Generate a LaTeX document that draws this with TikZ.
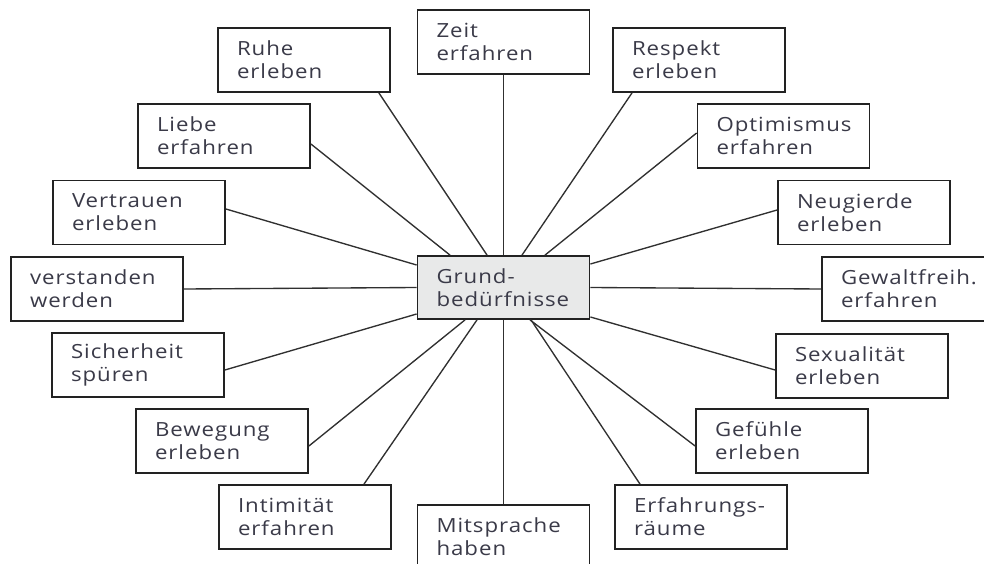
\documentclass[tikz,border=0pt]{standalone}
\usepackage{fontspec}
\setmainfont{Open Sans}[LetterSpace=5, FakeStretch=1.14]
\usetikzlibrary{calc}
\definecolor{txt}{HTML}{3A3A48}
\definecolor{boxline}{HTML}{222222}
\definecolor{wire}{HTML}{303030}
\definecolor{centerfill}{HTML}{E8E9E9}
\tikzset{
  need/.style={draw=boxline, line width=1.8pt, fill=white, minimum width=172pt, minimum height=64pt,
    inner xsep=19pt, inner ysep=0pt, text width=134pt, align=left, text=txt,
    font=\fontsize{19.5pt}{23pt}\selectfont},
  hub/.style={need, fill=centerfill, minimum width=171pt, minimum height=63pt},
  wire/.style={draw=wire, line width=1.35pt}
}
\begin{document}
\begin{tikzpicture}[x=1pt, y=-1pt]
\useasboundingbox (0,0) rectangle (984,564);
\node[hub] (grund) at (503.5,287.5) {Grund-\\bedürfnisse};
\node[need] (zeit) at (503.5,42) {Zeit\\erfahren};
\node[need] (ruhe) at (304,60) {Ruhe\\erleben};
\node[need] (respekt) at (699,60) {Respekt\\erleben};
\node[need] (liebe) at (224,136) {Liebe\\erfahren};
\node[need] (optimismus) at (783.5,136) {Optimismus\\erfahren};
\node[need] (vertrauen) at (139,212.5) {Vertrauen\\erleben};
\node[need] (neugierde) at (864,212.5) {Neugierde\\erleben};
\node[need] (verstanden) at (97,289) {verstanden\\werden};
\node[need] (gewalt) at (908,289) {Gewaltfreih.\\erfahren};
\node[need] (sicherheit) at (138,365) {Sicherheit\\spüren};
\node[need] (sexualitaet) at (862,366) {Sexualität\\erleben};
\node[need] (bewegung) at (222,441) {Bewegung\\erleben};
\node[need] (gefuehle) at (782,441) {Gefühle\\erleben};
\node[need] (intimitaet) at (305,517) {Intimität\\erfahren};
\node[need] (erfahrung) at (701,517) {Erfahrungs-\\räume};
\node[need] (mitsprache) at (503.5,537) {Mitsprache\\haben};
% connectors
\draw[wire] (zeit.south) -- (grund.north);
\draw[wire] ([xshift=-12pt]ruhe.south east) -- ([xshift=-16.5pt]grund.north);
\draw[wire] ([xshift=-67pt]respekt.south) -- ([xshift=18.5pt]grund.north);
\draw[wire] ([yshift=-8pt]liebe.east) -- ([xshift=-53.5pt]grund.north);
\draw[wire] ([yshift=3pt]optimismus.west) -- ([xshift=41.5pt]grund.north);
\draw[wire] ([yshift=3.5pt]vertrauen.east) -- ([yshift=22.5pt]grund.west);
\draw[wire] ([yshift=2.5pt]neugierde.west) -- ([yshift=23.5pt]grund.east);
\draw[wire] (verstanden.east) -- (grund.west);
\draw[wire] (gewalt.west) -- (grund.east);
\draw[wire] ([yshift=-5pt]sicherheit.east) -- ([yshift=-26.5pt]grund.west);
\draw[wire] ([yshift=-4pt]sexualitaet.west) -- ([yshift=-29.5pt]grund.east);
\draw[wire] ([yshift=-5pt]bewegung.east) -- ([xshift=-38.5pt]grund.south);
\draw[wire] ([yshift=-5pt]gefuehle.west) -- ([xshift=26.5pt]grund.south);
\draw[wire] ([xshift=59pt]intimitaet.north) -- ([xshift=-26.5pt]grund.south);
\draw[wire] ([xshift=-61pt]erfahrung.north) -- ([xshift=27.5pt]grund.south);
\draw[wire] (mitsprache.north) -- (grund.south);
\end{tikzpicture}
\end{document}
